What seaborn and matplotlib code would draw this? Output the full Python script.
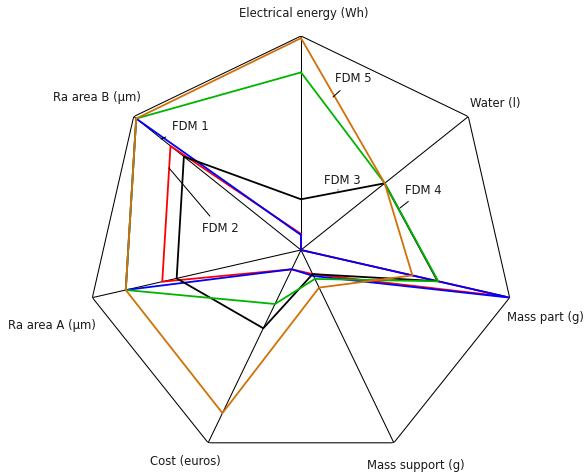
import numpy as np
import pandas as pd
import matplotlib
matplotlib.use('Agg')
import matplotlib.pyplot as plt
import seaborn as sns

# axes of the radar, clockwise from the top
criteria = ['Electrical energy (Wh)', 'Water (l)', 'Mass part (g)', 'Mass support (g)',
            'Cost (euros)', 'Ra area A (µm)', 'Ra area B (µm)']

# normalised scores (0 = centre, 1 = outer polygon)
fdm1 = [0.07, 0.0, 1.0, 0.135, 0.10, 0.84, 0.985]
fdm2 = [0.075, 0.0, 0.98, 0.125, 0.10, 0.665, 0.78]
fdm3 = [0.237, 0.50, 0.655, 0.125, 0.406, 0.596, 0.70]
fdm4 = [0.83, 0.50, 0.658, 0.15, 0.28, 0.84, 0.985]
fdm5 = [0.99, 0.50, 0.534, 0.195, 0.846, 0.84, 0.985]

series_names = ['FDM 2', 'FDM 1', 'FDM 3', 'FDM 4', 'FDM 5']
series_values = [fdm2, fdm1, fdm3, fdm4, fdm5]
colors = {'FDM 1': '#0000ff', 'FDM 2': '#ff0000', 'FDM 3': '#000000',
          'FDM 4': '#00b400', 'FDM 5': '#d2700a'}

sns.set_theme(style='white')
plt.rcParams['font.family'] = ['DejaVu Sans']

n = len(criteria)
angles = np.linspace(0, 2 * np.pi, n, endpoint=False)
closed_angles = np.append(angles, angles[0])

rows = []
for name, vals in zip(series_names, series_values):
    for i, (a, v) in enumerate(zip(closed_angles, vals + vals[:1])):
        rows.append({'series': name, 'angle': a, 'value': v, 'order': i})
df = pd.DataFrame(rows)

W, H = 587, 474
fig = plt.figure(figsize=(W / 100, H / 100), dpi=100)
cx, cy, R = 301, 250, 214
ax = fig.add_axes([(cx - R) / W, (H - cy - R) / H, 2 * R / W, 2 * R / H], projection='polar')
ax.set_theta_offset(np.pi / 2)
ax.set_theta_direction(-1)
ax.set_ylim(0, 1)
ax.grid(False)
ax.set_xticks([])
ax.set_yticks([])
ax.spines['polar'].set_visible(False)
ax.patch.set_alpha(0)

# heptagon frame and spokes
ax.plot(closed_angles, np.ones(n + 1), color='black', lw=0.75, zorder=1)
for a in angles:
    ax.plot([a, a], [0, 1], color='black', lw=0.75, zorder=1)

sns.lineplot(data=df, x='angle', y='value', hue='series', palette=colors,
             hue_order=series_names, sort=False, estimator=None, units='series',
             lw=1.3, legend=False, ax=ax, zorder=3)
ax.set_xlabel('')
ax.set_ylabel('')
ax.set_ylim(0, 1)

# axis labels (image pixel positions)
label_pos = [(304, 14, 'center'), (470, 104, 'left'), (584, 317, 'right'),
             (367, 465, 'left'), (150, 462, 'left'), (8, 325, 'left'), (53, 97, 'left')]
for text, (x, y, ha) in zip(criteria, label_pos):
    fig.text(x / W, 1 - y / H, text, ha=ha, va='center', fontsize=8.4, color='#1a1a1a')

# series callouts: (label, text xy, arrow tip) in image pixels
callouts = [('FDM 1', (190, 127), (161, 139)),
            ('FDM 2', (220, 228), (169, 168)),
            ('FDM 3', (342, 180), (338, 190)),
            ('FDM 4', (423, 190), (400, 208)),
            ('FDM 5', (353, 79), (333, 97))]
for name, (tx, ty), (px, py) in callouts:
    ax.annotate(name, xy=(px, H - py), xycoords='figure pixels',
                xytext=(tx, H - ty), textcoords='figure pixels',
                ha='center', va='center', fontsize=8.4, color='#1a1a1a',
                arrowprops=dict(arrowstyle='-', color='black', lw=0.75,
                                shrinkA=2, shrinkB=0))

fig.savefig('out.png', dpi=100)
